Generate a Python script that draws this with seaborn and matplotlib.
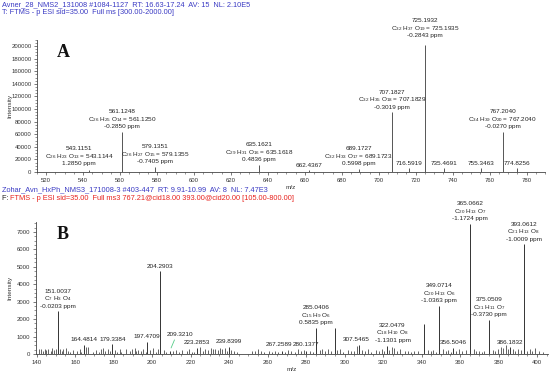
import numpy as np
import pandas as pd
import matplotlib
matplotlib.use("Agg")
import matplotlib.pyplot as plt
from matplotlib.ticker import MultipleLocator, AutoMinorLocator
import seaborn as sns

# ---------------- data ----------------
hdrA1 = "Avner_28_NMS2_131008 #1084-1127  RT: 16.63-17.24  AV: 15  NL: 2.10E5"
hdrA2 = "T: FTMS - p ESI sid=35.00  Full ms [300.00-2000.00]"
hdrB1 = "Zohar_Avn_HxPh_NMS3_171008-3 #403-447  RT: 9.91-10.99  AV: 8  NL: 7.47E3"
hdrB2a = "F: "
hdrB2b = "FTMS - p ESI sid=35.00  Full ms3 767.21@cid18.00 393.00@cid20.00 [105.00-800.00]"

a_mz = [543.1151, 561.1248, 579.1351, 635.1621, 662.4367, 689.1727, 707.1827,
        716.5919, 725.1932, 735.4691, 755.3463, 767.2040, 774.8256]
a_int = [3000, 63500, 8000, 11000, 2500, 5000, 95000,
         6000, 201500, 6000, 6000, 63500, 6000]
a_lab = [
    "543.1151\nC$_{26}$ H$_{23}$ O$_{13}$ = 543.1144\n1.2850 ppm",
    "561.1248\nC$_{26}$ H$_{25}$ O$_{14}$ = 561.1250\n-0.2850 ppm",
    "579.1351\nC$_{26}$ H$_{27}$ O$_{15}$ = 579.1355\n-0.7405 ppm",
    "635.1621\nC$_{29}$ H$_{31}$ O$_{16}$ = 635.1618\n0.4836 ppm",
    "662.4367",
    "689.1727\nC$_{32}$ H$_{33}$ O$_{17}$ = 689.1723\n0.5998 ppm",
    "707.1827\nC$_{32}$ H$_{35}$ O$_{18}$ = 707.1829\n-0.3019 ppm",
    "716.5919",
    "725.1932\nC$_{32}$ H$_{37}$ O$_{19}$ = 725.1935\n-0.2843 ppm",
    "735.4691",
    "755.3463",
    "767.2040\nC$_{34}$ H$_{39}$ O$_{20}$ = 767.2040\n-0.0270 ppm",
    "774.8256",
]

b_mz = [151.0037, 164.4814, 179.3384, 197.4709, 204.2903, 209.3210, 223.2853,
        239.8399, 267.2589, 280.1377, 285.0406, 294.9, 307.5465, 322.0479,
        341.2, 349.0714, 356.5046, 365.0662, 375.0509, 386.1832, 393.0612]
b_int = [2450, 520, 560, 700, 4750, 200, 360,
         420, 180, 200, 1500, 1520, 520, 480,
         1720, 2750, 360, 7470, 1950, 380, 6300]
b_lab = [
    "151.0037\nC$_7$ H$_3$ O$_4$\n-0.0203 ppm",
    "164.4814", "179.3384", "197.4709", "204.2903", "209.3210", "223.2853",
    "239.8399", "267.2589", "280.1377",
    "285.0406\nC$_{15}$ H$_9$ O$_6$\n0.5835 ppm",
    "",
    "307.5465",
    "322.0479\nC$_{18}$ H$_{10}$ O$_8$\n-1.1301 ppm",
    "",
    "349.0714\nC$_{20}$ H$_{13}$ O$_6$\n-1.0363 ppm",
    "356.5046",
    "365.0662\nC$_{20}$ H$_{13}$ O$_7$\n-1.1724 ppm",
    "375.0509\nC$_{21}$ H$_{11}$ O$_7$\n-0.3730 ppm",
    "386.1832",
    "393.0612\nC$_{21}$ H$_{13}$ O$_8$\n-1.0009 ppm",
]

b_noise_mz = [
    141.0, 142.3, 143.1, 144.2, 145.0, 146.1, 147.3, 148.2, 149.1, 150.3,
    152.2, 153.0, 153.9, 155.1, 156.2, 157.4, 159.0, 161.1, 162.4, 163.2,
    165.8, 166.9, 169.5, 171.0, 172.2, 173.4, 174.6, 175.8, 177.0, 178.3,
    180.6, 181.9, 183.2, 184.1, 186.5, 188.3, 189.7, 191.0, 191.8, 192.9,
    194.3, 195.5, 196.6, 199.0, 200.4, 201.9, 203.1, 206.2, 207.4, 210.8,
    212.4, 213.9, 215.7, 217.9, 219.4, 220.6, 222.0, 224.9, 226.3, 227.5,
    228.9, 230.4, 231.7, 232.9, 234.1, 235.3, 236.5, 237.8, 238.9, 241.0,
    242.5, 244.2, 252.0, 253.6, 255.1, 256.8, 258.3, 260.9, 262.4, 264.0,
    265.6, 268.9, 270.5, 272.2, 274.3, 275.8, 277.4, 278.9, 282.0, 283.5,
    287.1, 288.5, 289.9, 291.4, 292.8, 296.3, 297.7, 299.2, 302.0, 303.5,
    304.9, 306.3, 309.0, 310.6, 312.1, 313.7, 316.2, 317.8, 319.2, 320.7,
    323.2, 324.4, 325.7, 327.2, 328.9, 331.5, 333.1, 334.6, 336.0, 338.3,
    343.1, 344.8, 346.2, 347.6, 350.9, 352.5, 354.0, 355.2, 358.1, 359.7,
    361.1, 362.9, 367.0, 368.4, 369.8, 371.2, 372.6, 376.9, 378.4, 379.8,
    381.1, 382.5, 383.8, 385.0, 387.3, 388.7, 390.2, 391.6, 394.6, 396.1,
    397.5, 399.0, 401.2, 403.1]
b_noise_int = [
    260, 300, 180, 310, 220, 290, 150, 330, 240, 280,
    310, 200, 260, 340, 180, 120, 230, 150, 260, 90,
    380, 420, 140, 230, 110, 280, 330, 180, 260, 150,
    210, 140, 260, 120, 300, 190, 260, 340, 170, 220,
    150, 280, 120, 240, 330, 110, 260, 220, 120, 170,
    250, 140, 220, 160, 310, 120, 140, 380, 170, 260,
    230, 320, 260, 300, 210, 330, 280, 350, 190, 240,
    160, 120, 200, 150, 260, 170, 120, 200, 110, 160,
    140, 110, 240, 170, 130, 280, 190, 220, 160, 120,
    210, 280, 180, 260, 150, 250, 300, 140, 230, 190,
    170, 460, 240, 160, 300, 140, 210, 180, 260, 150,
    230, 420, 340, 150, 270, 170, 200, 110, 150, 190,
    220, 160, 250, 140, 310, 180, 230, 130, 200, 280,
    160, 250, 300, 150, 200, 130, 160, 250, 190, 280,
    420, 360, 510, 300, 280, 180, 260, 220, 170, 290,
    150, 340, 160, 110]

# label offsets in points (layout, not data)
a_off = {543.1151: (-7, 1), 725.1932: (0, 3)}
b_off = {209.3210: (7, 8), 267.2589: (-2, 1), 280.1377: (0, 1),
         307.5465: (-2, 0), 322.0479: (4, 0)}

# ---------------- style ----------------
sns.set_theme(style="ticks")
plt.rcParams.update({
    "font.family": ["Liberation Sans", "DejaVu Sans"],
    "mathtext.fontset": "custom",
    "mathtext.rm": "Liberation Sans",
    "mathtext.default": "regular",
    "axes.linewidth": 0.6,
    "axes.edgecolor": "#444444",
    "xtick.color": "#444444",
    "ytick.color": "#444444",
    "xtick.labelcolor": "#333333",
    "ytick.labelcolor": "#333333",
})

fig = plt.figure(figsize=(5.5, 3.74), dpi=100)
W, H = 550.0, 374.0
axA = fig.add_axes([37 / W, 1 - 172 / H, (545 - 37) / W, (172 - 39.7) / H])
axB = fig.add_axes([36 / W, 1 - 354 / H, (548 - 36) / W, (354 - 221.5) / H])

FS = 4.6
LINE_PT = 5.4
BASE_PT = 2.6
TICK_FS = 4.3


def put_label(ax, x, y, text, off, color="#222222"):
    dx, dy = off
    lines = text.split("\n")
    for i, line in enumerate(reversed(lines)):
        ax.annotate(line, xy=(x, y), xytext=(dx, BASE_PT + dy + i * LINE_PT),
                    textcoords="offset points", ha="center", va="baseline",
                    fontsize=FS, color=color, annotation_clip=False)


def style_axis(ax):
    sns.despine(ax=ax)
    ax.tick_params(axis="both", which="major", length=2.5, width=0.5,
                   labelsize=TICK_FS, pad=1.5)
    ax.tick_params(axis="both", which="minor", length=1.3, width=0.4)
    ax.xaxis.set_minor_locator(AutoMinorLocator(4))
    ax.yaxis.set_minor_locator(AutoMinorLocator(4))
    ax.set_facecolor("none")


# ---------------- panel A ----------------
dfA = pd.DataFrame({"mz": a_mz, "intensity": a_int, "label": a_lab})
axA.vlines(dfA["mz"], 0, dfA["intensity"], colors="#555555", linewidth=0.7)
for mz, it, lab in zip(dfA["mz"], dfA["intensity"], dfA["label"]):
    put_label(axA, mz, it, lab, a_off.get(mz, (0, 0)))
axA.set_xlim(515, 790)
axA.set_ylim(0, 210000)
axA.xaxis.set_major_locator(MultipleLocator(20))
axA.yaxis.set_major_locator(MultipleLocator(20000))
axA.ticklabel_format(style="plain", axis="y")
style_axis(axA)
axA.set_ylabel("Intensity", fontsize=4.6, color="#333333")
axA.yaxis.set_label_coords((12 - 37) / 508, 0.5)
axA.set_xlabel("m/z", fontsize=4.6, labelpad=1.5, color="#333333")
axA.text(0.04, 0.965, "A", transform=axA.transAxes, fontsize=13,
         fontweight="bold", family=["Liberation Serif", "DejaVu Serif"],
         ha="left", va="top", color="#111111")

# ---------------- panel B ----------------
dfN = pd.DataFrame({"mz": b_noise_mz, "intensity": b_noise_int})
axB.vlines(dfN["mz"], 0, dfN["intensity"], colors="#4a4a4a", linewidth=0.6)
dfB = pd.DataFrame({"mz": b_mz, "intensity": b_int, "label": b_lab})
axB.vlines(dfB["mz"], 0, dfB["intensity"], colors="#333333", linewidth=0.7)
for mz, it, lab in zip(dfB["mz"], dfB["intensity"], dfB["label"]):
    if not lab:
        continue
    off = b_off.get(mz, (0, 0))
    put_label(axB, mz, it, lab, off)
    if off[1] > 4:
        axB.annotate("", xy=(mz, it), xytext=(off[0] - 3, off[1] + 1.5),
                     textcoords="offset points",
                     arrowprops=dict(arrowstyle="-", color="#55cc88", lw=0.6))
axB.set_xlim(139.7, 405.7)
axB.set_ylim(0, 7600)
axB.xaxis.set_major_locator(MultipleLocator(20))
axB.yaxis.set_major_locator(MultipleLocator(1000))
style_axis(axB)
axB.set_ylabel("Intensity", fontsize=4.6, color="#333333")
axB.yaxis.set_label_coords((12 - 36) / 512, 0.5)
axB.set_xlabel("m/z", fontsize=4.6, labelpad=1.5, color="#333333")
axB.text(0.04, 0.965, "B", transform=axB.transAxes, fontsize=13,
         fontweight="bold", family=["Liberation Serif", "DejaVu Serif"],
         ha="left", va="top", color="#111111")

# ---------------- headers ----------------
blue = "#3b3bc4"
red = "#e8231f"
HFS = 5.3
fig.text(2 / W, 1 - 5 / H, hdrA1, fontsize=HFS, color=blue, va="center")
fig.text(2 / W, 1 - 13 / H, hdrA2, fontsize=HFS, color=blue, va="center")
fig.text(2 / W, 1 - 190 / H, hdrB1, fontsize=HFS, color=blue, va="center")
fig.text(2 / W, 1 - 198 / H, hdrB2a, fontsize=HFS, color="#222222", va="center")
fig.text(10 / W, 1 - 198 / H, hdrB2b, fontsize=HFS, color=red, va="center")

fig.savefig("out.png", dpi=100)
